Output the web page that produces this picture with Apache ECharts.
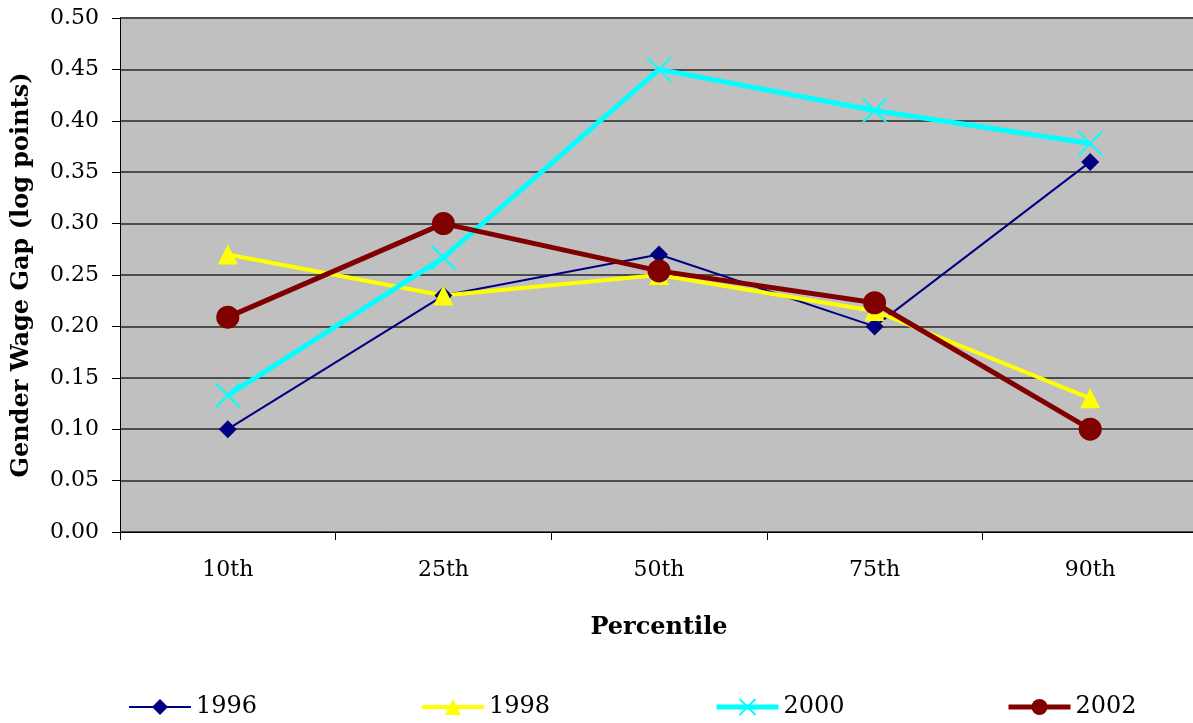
<!DOCTYPE html>
<html>
<head>
<meta charset="utf-8">
<script src="https://cdn.jsdelivr.net/npm/echarts@6/dist/echarts.min.js"></script>
<style>html,body{margin:0;padding:0;background:#fff}#c{width:1193px;height:723px}</style>
</head>
<body>
<div id="c"></div>
<script>
const categories = ['10th', '25th', '50th', '75th', '90th'];
const s1996 = [0.10, 0.23, 0.27, 0.20, 0.36];
const s1998 = [0.27, 0.23, 0.25, 0.215, 0.13];
const s2000 = [0.133, 0.267, 0.45, 0.41, 0.378];
const s2002 = [0.209, 0.30, 0.254, 0.223, 0.10];
const yTicks = { min: 0, max: 0.5, interval: 0.05 };

const serif = '"DejaVu Serif", serif';
const chart = echarts.init(document.getElementById('c'));
const xPath = 'path://M0,0L20,20M20,0L0,20';
function legend(name, left, width) {
  return {
    data: [{ name: name, lineStyle: { width: width } }], left: left, top: 695, itemWidth: 62, itemHeight: 20, padding: 0,
    textStyle: { fontFamily: serif, fontSize: 24, color: '#000' }
  };
}
chart.setOption({
  animation: false,
  backgroundColor: '#fff',
  grid: { left: 120, top: 18, right: -5, bottom: 191, show: true, backgroundColor: '#c0c0c0', borderWidth: 0, outerBoundsMode: 'none', containLabel: false },
  legend: [legend('1996', 128, 2), legend('1998', 420, 4), legend('2000', 714, 5), legend('2002', 1006, 5)],
  xAxis: {
    type: 'category', data: categories, boundaryGap: true,
    name: 'Percentile', nameLocation: 'middle', nameGap: 84,
    nameTextStyle: { fontFamily: serif, fontWeight: 'bold', fontSize: 24, color: '#000' },
    axisLine: { lineStyle: { color: '#000', width: 1 } },
    axisTick: { show: true, length: 8, lineStyle: { color: '#000' } },
    axisLabel: { fontFamily: serif, fontSize: 22, color: '#000', margin: 27 },
    splitLine: { show: false }
  },
  yAxis: {
    type: 'value', min: yTicks.min, max: yTicks.max, interval: yTicks.interval,
    name: 'Gender Wage Gap (log points)', nameLocation: 'middle', nameGap: 86,
    nameTextStyle: { fontFamily: serif, fontWeight: 'bold', fontSize: 24, color: '#000' },
    axisLine: { show: true, lineStyle: { color: '#000', width: 1 } },
    axisTick: { show: true, length: 8, lineStyle: { color: '#000' } },
    axisLabel: { fontFamily: serif, fontSize: 22, color: '#000', margin: 21, formatter: v => v.toFixed(2) },
    splitLine: { show: true, lineStyle: { color: '#4d4d4d', width: 2 } }
  },
  series: [
    { name: '1996', type: 'line', data: s1996, symbol: 'diamond', symbolSize: 18,
      lineStyle: { color: '#000080', width: 2 }, itemStyle: { color: '#000080' } },
    { name: '1998', type: 'line', data: s1998, symbol: 'triangle', symbolSize: 20,
      lineStyle: { color: '#ffff00', width: 4 }, itemStyle: { color: '#ffff00' } },
    { name: '2000', type: 'line', data: s2000, symbol: xPath, symbolSize: 24,
      lineStyle: { color: '#00ffff', width: 5 }, itemStyle: { color: '#00ffff', borderColor: '#00ffff', borderWidth: 2 } },
    { name: '2002', type: 'line', data: s2002, symbol: 'circle', symbolSize: 23,
      lineStyle: { color: '#800000', width: 5 }, itemStyle: { color: '#800000' } }
  ]
});
</script>
</body>
</html>
